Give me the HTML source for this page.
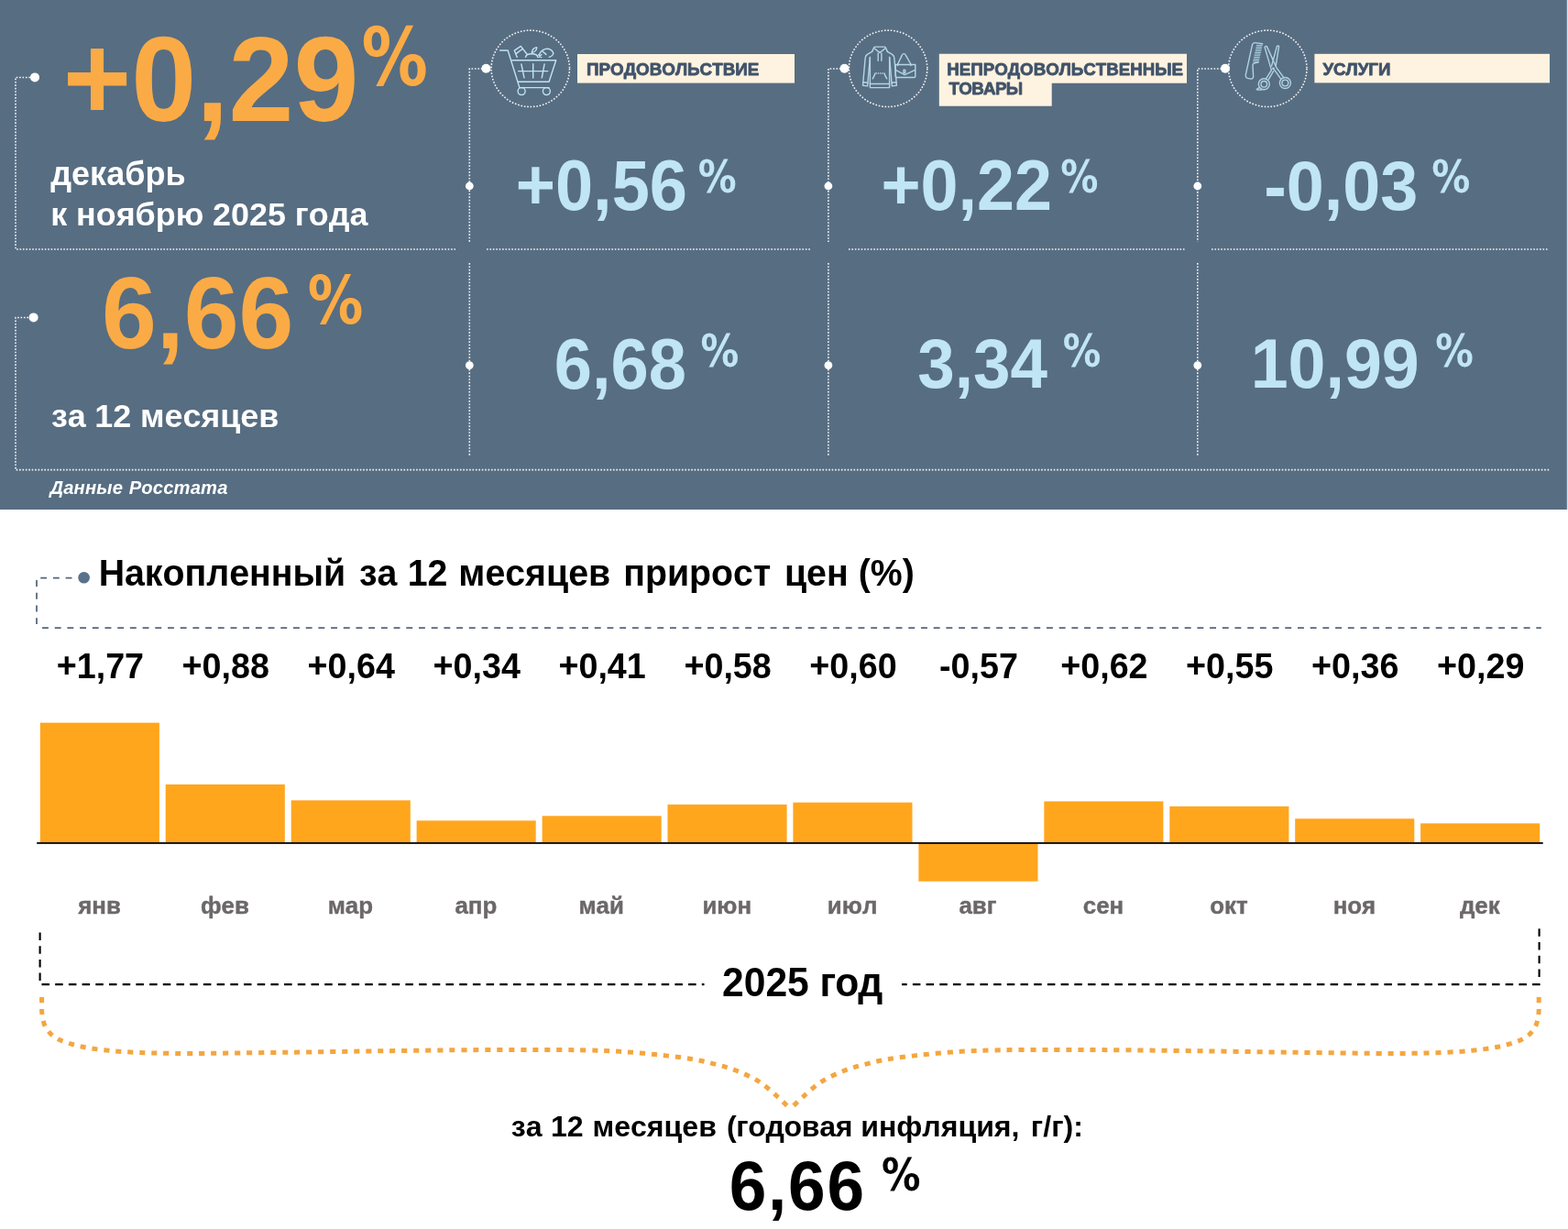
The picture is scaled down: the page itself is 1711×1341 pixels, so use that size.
<!DOCTYPE html>
<html lang="ru">
<head>
<meta charset="utf-8">
<title>Инфляция: декабрь 2025 года</title>
<style>
html,body{margin:0;padding:0;background:#ffffff;}
body{width:1711px;height:1341px;overflow:hidden;}
svg{display:block;}
text{font-family:"Liberation Sans",sans-serif;font-weight:700;font-kerning:none;}
.dot{fill:none;stroke:#ffffff;stroke-width:1.6;stroke-dasharray:1.65 1.76;stroke-opacity:0.92;}
.ic{fill:none;stroke:#bfe4f4;stroke-width:1.4;stroke-linecap:round;stroke-linejoin:round;}
.dash{fill:none;stroke:#55657a;stroke-width:1.75;stroke-dasharray:6.9 6.8;}
.bdash{fill:none;stroke:#000000;stroke-width:2.1;stroke-dasharray:8.5 6.2;}
.brace{fill:none;stroke:#f4a640;stroke-width:5;stroke-dasharray:6.1 6.9;}
.pc{font-family:"DejaVu Sans","Liberation Sans",sans-serif;}
.lbl{fill:#41536a;stroke:#41536a;stroke-width:0.8px;stroke-linejoin:round;}
.mon{fill:#6c6869;stroke:#6c6869;stroke-width:0.4px;}
</style>
</head>
<body>
<svg width="1711" height="1341" viewBox="0 0 1711 1341" role="img" aria-label="Инфляция: декабрь 2025 года">

<rect x="1709" y="0" width="2" height="556" fill="#dbe4ec"/>
<rect x="0" y="0" width="1709.8" height="556" fill="#576d82"/>
<g>
<path class="dot" d="M33 84.5H17V272H497"/>
<path class="dot" d="M31 346.5H17V512.6H1691"/>
<path class="dot" d="M526.4 75H512.3V264"/>
<path class="dot" d="M512.3 287V497"/>
<path class="dot" d="M917.5 75H903.9V264"/>
<path class="dot" d="M903.9 287V497"/>
<path class="dot" d="M1333.0 75H1306.8V264"/>
<path class="dot" d="M1306.8 287V497"/>
<path class="dot" d="M531 272H884"/>
<path class="dot" d="M926 272H1294"/>
<path class="dot" d="M1322 272H1690"/>
</g>
<circle cx="38" cy="84.4" r="5" fill="#fff"/>
<circle cx="36.6" cy="346.4" r="5" fill="#fff"/>
<circle cx="530.4" cy="74.8" r="5" fill="#fff"/>
<circle cx="512.3" cy="203" r="4.4" fill="#fff"/>
<circle cx="512.3" cy="398.6" r="4.4" fill="#fff"/>
<circle cx="921.5" cy="74.8" r="5" fill="#fff"/>
<circle cx="903.9" cy="203" r="4.4" fill="#fff"/>
<circle cx="903.9" cy="398.6" r="4.4" fill="#fff"/>
<circle cx="1337.0" cy="74.8" r="5" fill="#fff"/>
<circle cx="1306.8" cy="203" r="4.4" fill="#fff"/>
<circle cx="1306.8" cy="398.6" r="4.4" fill="#fff"/>
<ellipse class="dot" cx="578.8" cy="74.8" rx="42.7" ry="41.7" stroke-width="1.7"/>
<ellipse class="dot" cx="969.1" cy="74.8" rx="42.7" ry="41.7" stroke-width="1.7"/>
<ellipse class="dot" cx="1383.3" cy="74.8" rx="42.7" ry="41.7" stroke-width="1.7"/>
<g class="ic" stroke-width="1.45">
<path d="M545.6 55H554.2L566.9 95.6H599"/>
<path d="M558.8 65.8H606.7L599.1 89.2H565.4"/>
<path d="M565.6 77.6H597.8M568.9 70L572 84.8M581.7 69.7V85.1M594.1 69.9L591.3 84.8"/>
<circle cx="569.1" cy="99.6" r="4"/>
<circle cx="596.4" cy="99.6" r="4"/>
<path d="M564.3 62.4L561.3 55.2L568.3 50.4L570.4 53.2L575 59"/>
<path d="M563 58.6L570.4 53.2"/>
<path d="M573.5 62.4C574 57.6 586.3 57.6 586.8 62.4"/>
<path d="M580.3 57.6C580.6 54.4 583 52 585.7 51.6C585.8 54.2 583.6 56.6 580.3 57.6Z"/>
<path d="M588.3 59.6C590 55.4 594.2 52.7 598.2 53.3C602 53.9 604.6 57 603.4 59.5C602.5 61 601 61.8 599.4 62.4"/>
<path d="M592.2 56.2L596 59.4M587.6 60L590.6 62.6M590.8 59.6L587.8 62.6"/>
</g>
<g class="ic" stroke-width="1.05" opacity="0.88">
<path d="M951.6 56.4L953.8 51.6Q954.2 51.1 955 51.1H965Q965.8 51.1 966.2 51.6L968.4 56.4"/>
<path d="M954.4 53L960 57.6L965.6 53"/>
<path d="M958.2 58.2V66.2M961.9 58.2V66.2"/>
<path d="M951.6 56.4L946.4 59.4Q944.4 60.8 944.2 63L941.5 93.2L946.6 93.9L949.4 62.4"/>
<path d="M968.4 56.4L973.6 59.4Q975.6 60.8 975.8 63L978.4 93.2L973.3 93.9L970.6 62.4"/>
<path d="M949.4 62.4V95.6H970.6V62.4"/>
<path d="M949.4 91.5H970.6M941.9 89.8L946.9 90.3M978 89.8L973 90.3"/>
<path d="M952.3 85.8C953.6 83.6 954.6 81.6 955 80M967.7 85.8C966.4 83.6 965.4 81.6 965 80"/>
<path d="M955.6 80H964.6" stroke-dasharray="1.3 0.9" stroke-linecap="butt"/>
<path d="M977.2 70.5H998.8V83.3Q998.8 84.5 997.6 84.5H978.4Q977.2 84.5 977.2 83.3Z"/>
<path d="M977.4 76.4L987.2 81.6L998.6 76.4"/>
<rect x="985.9" y="76.1" width="1.9" height="3.4" rx="0.6"/>
<path d="M979.6 71.6V70L984.2 60.4C985 58 987.6 58 988.4 60.4L993.9 70V71.6"/>
</g>
<g class="ic" stroke-width="0.95" opacity="0.85">
<path d="M1377.6 47.8L1369.4 46.6Q1367.2 46.4 1366.5 48.8L1359.4 81.2Q1358.7 84.6 1361.4 85.4L1365 86.1Q1367.4 86.2 1367.6 83.8L1367 71.2Q1367 69.5 1368.6 69L1373.2 67.8"/>
<path d="M1371.4 49.4H1377.3M1371.0 51.0H1376.9M1370.7 52.6H1376.6M1370.3 54.3H1376.2M1370.0 55.9H1375.9M1369.6 57.5H1375.5M1369.2 59.1H1375.1M1368.9 60.7H1374.8M1368.5 62.4H1374.4M1368.2 64.0H1374.1M1367.8 65.6H1373.7M1367.4 67.2H1373.3" stroke-width="0.9"/>
<path d="M1380.1 51.6Q1380.6 50 1382.4 50.6L1392.6 73.4L1400.6 84.4M1380.1 51.6L1387.4 76.6"/>
<path d="M1395.6 50.6Q1395 49.4 1393.4 50.4L1387.6 72M1395.6 50.6L1392.2 71.6"/>
<path d="M1387.4 76.6L1381.6 85.6M1390.6 76.2L1398 86.6M1389.6 77.6L1384.4 86.4"/>
<circle cx="1389.5" cy="74.8" r="0.7"/>
<circle cx="1402.4" cy="90.5" r="6"/>
<circle cx="1402.4" cy="90.5" r="3.4"/>
<circle cx="1379.3" cy="91.8" r="6"/>
<circle cx="1379.3" cy="91.8" r="3.3"/>
<path d="M1374.4 95.4L1371.2 97.6Q1373.5 98.6 1377.6 97.6"/>
</g>
<rect x="630" y="59" width="237" height="31.6" fill="#fef3e0"/>
<path d="M1024.8 58.8H1295V90.7H1147.7V115.7H1024.8Z" fill="#fef3e0"/>
<rect x="1434.4" y="58.8" width="256.6" height="31.6" fill="#fef3e0"/>
<text class="lbl" transform="translate(640.04 82.2) scale(1 0.965)" font-size="18.81">ПРОДОВОЛЬСТВИЕ</text>
<text class="lbl" transform="translate(1033.35 81.9) scale(1 0.965)" font-size="18.71">НЕПРОДОВОЛЬСТВЕННЫЕ</text>
<text class="lbl" transform="translate(1035.39 103.2) scale(1 0.965)" font-size="18.8" letter-spacing="-0.67">ТОВАРЫ</text>
<text class="lbl" transform="translate(1443.39 82) scale(1 0.965)" font-size="18.71">УСЛУГИ</text>
<text transform="translate(68.64 131.61) scale(1 1.036)" font-size="127.57" fill="#fbab45"><tspan dy="-1.98">+</tspan><tspan dy="1.98">0,29</tspan></text>
<text class="pc" transform="translate(394.47 93.06) scale(0.823 1)" font-size="87.79" fill="#fbab45">%</text>
<text y="201.6" font-size="36" fill="#fff" xml:space="preserve"><tspan x="55.25">декабрь</tspan></text>
<text y="246.1" font-size="35.9" fill="#fff" xml:space="preserve"><tspan x="55.31">к </tspan><tspan x="83.09">ноябрю </tspan><tspan x="232.06">2025 </tspan><tspan x="321.79">года</tspan></text>
<text transform="translate(110.96 379.91) scale(1 1.041)" font-size="107.6" fill="#fbab45">6,66</text>
<text class="pc" transform="translate(335.75 353.17) scale(0.830 1)" font-size="72.85" fill="#fbab45">%</text>
<text y="465.9" font-size="35.9" fill="#fff" xml:space="preserve"><tspan x="55.97">за </tspan><tspan x="103.24">12 </tspan><tspan x="152.89">месяцев</tspan></text>
<text y="538.7" font-size="20.2" fill="#fff" letter-spacing="0.15" font-style="italic" xml:space="preserve"><tspan x="54.53">Данные </tspan><tspan x="140.74">Росстата</tspan></text>
<text transform="translate(562.69 229.45) scale(1 1.044)" font-size="74.02" fill="#c0e5f5"><tspan dy="-1.15">+</tspan><tspan dy="1.15">0,56</tspan></text>
<text class="pc" transform="translate(761.65 209.79) scale(0.834 1)" font-size="50.11" fill="#c0e5f5">%</text>
<text transform="translate(961.4 229.45) scale(1 1.047)" font-size="73.77" fill="#c0e5f5"><tspan dy="-1.14">+</tspan><tspan dy="1.14">0,22</tspan></text>
<text class="pc" transform="translate(1157.27 209.79) scale(0.821 1)" font-size="50.11" fill="#c0e5f5">%</text>
<text transform="translate(1379.22 229.45) scale(1 1.042)" font-size="73.73" fill="#c0e5f5">-0,03</text>
<text class="pc" transform="translate(1562.25 209.79) scale(0.838 1)" font-size="50.11" fill="#c0e5f5">%</text>
<text transform="translate(604.79 423.54) scale(1 1.054)" font-size="74.09" fill="#c0e5f5">6,68</text>
<text class="pc" transform="translate(764.56 400.09) scale(0.832 1)" font-size="50.11" fill="#c0e5f5">%</text>
<text transform="translate(1001.23 422.9) scale(1 1.042)" font-size="72.79" fill="#c0e5f5">3,34</text>
<text class="pc" transform="translate(1159.86 400.09) scale(0.828 1)" font-size="50.11" fill="#c0e5f5">%</text>
<text transform="translate(1364.67 422.9) scale(1 1.042)" font-size="73.55" fill="#c0e5f5">10,99</text>
<text class="pc" transform="translate(1566.16 400.09) scale(0.828 1)" font-size="50.11" fill="#c0e5f5">%</text>
<path class="dash" d="M44.2 630.5H85"/>
<path class="dash" d="M40 633.1V685" stroke-dasharray="7 7.6"/>
<path class="dash" d="M46 685.1H1681.8"/>
<circle cx="91.6" cy="630.3" r="6.3" fill="#5a718b"/>
<text transform="translate(0 638.7) scale(1 1.015)" y="0" font-size="39.3" fill="#000" xml:space="preserve"><tspan x="107.67">Накопленный </tspan><tspan x="391.88">за </tspan><tspan x="444.72">12 </tspan><tspan x="500.36">месяцев </tspan><tspan x="680.26">прирост </tspan><tspan x="855.96">цен </tspan><tspan x="936.74">(%)</tspan></text>
<rect x="43.8" y="788.6" width="130.1" height="131.4" fill="#ffa61d"/>
<rect x="180.7" y="855.9" width="130.1" height="64.1" fill="#ffa61d"/>
<rect x="317.7" y="873.3" width="130.1" height="46.7" fill="#ffa61d"/>
<rect x="454.6" y="895.4" width="130.1" height="24.6" fill="#ffa61d"/>
<rect x="591.6" y="890.3" width="130.1" height="29.7" fill="#ffa61d"/>
<rect x="728.5" y="877.8" width="130.1" height="42.2" fill="#ffa61d"/>
<rect x="865.4" y="875.6" width="130.1" height="44.4" fill="#ffa61d"/>
<rect x="1002.4" y="920.0" width="130.1" height="41.7" fill="#ffa61d"/>
<rect x="1139.3" y="874.4" width="130.1" height="45.6" fill="#ffa61d"/>
<rect x="1276.3" y="879.8" width="130.1" height="40.2" fill="#ffa61d"/>
<rect x="1413.2" y="893.3" width="130.1" height="26.7" fill="#ffa61d"/>
<rect x="1550.1" y="898.4" width="130.1" height="21.6" fill="#ffa61d"/>
<text transform="translate(109.4 739.9) scale(1 1.037)" font-size="37.7" text-anchor="middle"><tspan dy="-0.55">+</tspan><tspan dy="0.55">1,77</tspan></text>
<text transform="translate(246.3 739.9) scale(1 1.037)" font-size="37.7" text-anchor="middle"><tspan dy="-0.55">+</tspan><tspan dy="0.55">0,88</tspan></text>
<text transform="translate(383.2 739.9) scale(1 1.037)" font-size="37.7" text-anchor="middle"><tspan dy="-0.55">+</tspan><tspan dy="0.55">0,64</tspan></text>
<text transform="translate(520.2 739.9) scale(1 1.037)" font-size="37.7" text-anchor="middle"><tspan dy="-0.55">+</tspan><tspan dy="0.55">0,34</tspan></text>
<text transform="translate(657.1 739.9) scale(1 1.037)" font-size="37.7" text-anchor="middle"><tspan dy="-0.55">+</tspan><tspan dy="0.55">0,41</tspan></text>
<text transform="translate(794.1 739.9) scale(1 1.037)" font-size="37.7" text-anchor="middle"><tspan dy="-0.55">+</tspan><tspan dy="0.55">0,58</tspan></text>
<text transform="translate(931.0 739.9) scale(1 1.037)" font-size="37.7" text-anchor="middle"><tspan dy="-0.55">+</tspan><tspan dy="0.55">0,60</tspan></text>
<text transform="translate(1068.0 739.9) scale(1 1.037)" font-size="37.7" text-anchor="middle">-0,57</text>
<text transform="translate(1204.9 739.9) scale(1 1.037)" font-size="37.7" text-anchor="middle"><tspan dy="-0.55">+</tspan><tspan dy="0.55">0,62</tspan></text>
<text transform="translate(1341.8 739.9) scale(1 1.037)" font-size="37.7" text-anchor="middle"><tspan dy="-0.55">+</tspan><tspan dy="0.55">0,55</tspan></text>
<text transform="translate(1478.8 739.9) scale(1 1.037)" font-size="37.7" text-anchor="middle"><tspan dy="-0.55">+</tspan><tspan dy="0.55">0,36</tspan></text>
<text transform="translate(1615.7 739.9) scale(1 1.037)" font-size="37.7" text-anchor="middle"><tspan dy="-0.55">+</tspan><tspan dy="0.55">0,29</tspan></text>
<text class="mon" transform="translate(108.5 996.9) scale(1 0.97)" font-size="25.9" text-anchor="middle">янв</text>
<text class="mon" transform="translate(245.4 996.9) scale(1 0.97)" font-size="25.9" text-anchor="middle">фев</text>
<text class="mon" transform="translate(382.4 996.9) scale(1 0.97)" font-size="25.9" text-anchor="middle">мар</text>
<text class="mon" transform="translate(519.3 996.9) scale(1 0.97)" font-size="25.9" text-anchor="middle">апр</text>
<text class="mon" transform="translate(656.2 996.9) scale(1 0.97)" font-size="25.9" text-anchor="middle">май</text>
<text class="mon" transform="translate(793.2 996.9) scale(1 0.97)" font-size="25.9" text-anchor="middle">июн</text>
<text class="mon" transform="translate(930.1 996.9) scale(1 0.97)" font-size="25.9" text-anchor="middle">июл</text>
<text class="mon" transform="translate(1067.0 996.9) scale(1 0.97)" font-size="25.9" text-anchor="middle">авг</text>
<text class="mon" transform="translate(1204.0 996.9) scale(1 0.97)" font-size="25.9" text-anchor="middle">сен</text>
<text class="mon" transform="translate(1340.9 996.9) scale(1 0.97)" font-size="25.9" text-anchor="middle">окт</text>
<text class="mon" transform="translate(1477.9 996.9) scale(1 0.97)" font-size="25.9" text-anchor="middle">ноя</text>
<text class="mon" transform="translate(1614.8 996.9) scale(1 0.97)" font-size="25.9" text-anchor="middle">дек</text>
<rect x="40.2" y="918.95" width="1643.5" height="1.9" fill="#0c0c0c"/>
<path class="bdash" d="M43.6 1017.5V1072"/>
<path class="bdash" d="M45.5 1074.1H768.5"/>
<path class="bdash" d="M1679.6 1013.3V1072"/>
<path class="bdash" d="M1680.6 1074.1H984"/>
<text transform="translate(0 1086.7) scale(1 1.020)" y="0" font-size="42.6" fill="#000" xml:space="preserve"><tspan x="788.02">2025 </tspan><tspan x="894.63" letter-spacing="-1.00">год</tspan></text>
<path class="brace" d="M45.6 1088.0C45.6 1089.3 45.6 1093.3 45.6 1096.0C45.6 1098.7 45.5 1101.2 45.7 1104.0C45.9 1106.8 46.4 1110.2 47.0 1113.0C47.6 1115.8 48.3 1118.0 49.6 1120.5C50.9 1123.0 53.1 1125.8 55.0 1127.8C56.9 1129.8 58.8 1130.9 61.0 1132.3C63.2 1133.7 64.7 1134.6 68.0 1135.9C71.3 1137.2 76.5 1138.8 80.7 1140.0C84.9 1141.2 88.8 1142.0 93.0 1142.8C97.2 1143.6 101.7 1144.3 106.0 1144.9C110.3 1145.5 114.4 1145.9 118.7 1146.3C123.0 1146.7 125.5 1147.0 132.0 1147.4C138.6 1147.8 149.3 1148.4 158.0 1148.7C166.7 1149.0 173.2 1149.2 184.0 1149.3C194.8 1149.4 201.1 1149.6 222.6 1149.4C244.1 1149.2 280.6 1148.7 313.0 1148.3C345.4 1147.9 382.3 1147.2 417.0 1146.8C451.7 1146.3 490.5 1145.8 521.0 1145.6C551.5 1145.4 580.2 1145.4 600.0 1145.4C619.8 1145.5 627.3 1145.6 640.0 1145.9C652.7 1146.2 663.5 1146.5 676.1 1147.3C688.7 1148.1 702.3 1149.2 715.4 1150.6C728.5 1152.0 743.9 1153.8 754.6 1155.5C765.4 1157.2 771.7 1159.0 779.9 1161.1C788.1 1163.2 795.7 1165.1 803.7 1168.3C811.7 1171.5 820.6 1175.3 828.1 1180.1C835.6 1184.8 842.9 1191.8 848.6 1196.8C854.3 1201.8 860.1 1207.8 862.4 1210.0"/>
<path class="brace" d="M1679.2 1088.0C1679.2 1089.3 1679.2 1093.3 1679.2 1096.0C1679.2 1098.7 1679.3 1101.2 1679.1 1104.0C1678.9 1106.8 1678.4 1110.2 1677.8 1113.0C1677.2 1115.8 1676.5 1118.0 1675.2 1120.5C1673.9 1123.0 1671.7 1125.8 1669.8 1127.8C1667.9 1129.8 1666.0 1130.9 1663.8 1132.3C1661.6 1133.7 1660.1 1134.6 1656.8 1135.9C1653.5 1137.2 1648.3 1138.8 1644.1 1140.0C1639.9 1141.2 1636.0 1142.0 1631.8 1142.8C1627.6 1143.6 1623.1 1144.3 1618.8 1144.9C1614.5 1145.5 1610.4 1145.9 1606.1 1146.3C1601.8 1146.7 1599.3 1147.0 1592.8 1147.4C1586.2 1147.8 1575.5 1148.4 1566.8 1148.7C1558.1 1149.0 1551.6 1149.2 1540.8 1149.3C1530.0 1149.4 1523.7 1149.6 1502.2 1149.4C1480.7 1149.2 1444.2 1148.7 1411.8 1148.3C1379.4 1147.9 1342.5 1147.2 1307.8 1146.8C1273.1 1146.3 1234.3 1145.8 1203.8 1145.6C1173.3 1145.4 1144.6 1145.4 1124.8 1145.4C1105.0 1145.5 1097.5 1145.6 1084.8 1145.9C1072.1 1146.2 1061.3 1146.5 1048.7 1147.3C1036.1 1148.1 1022.5 1149.2 1009.4 1150.6C996.3 1152.0 980.9 1153.8 970.2 1155.5C959.4 1157.2 953.1 1159.0 944.9 1161.1C936.7 1163.2 929.1 1165.1 921.1 1168.3C913.1 1171.5 904.2 1175.3 896.7 1180.1C889.2 1184.8 881.9 1191.8 876.2 1196.8C870.5 1201.8 864.7 1207.8 862.4 1210.0"/>
<text y="1240.3" font-size="32.1" fill="#000" xml:space="preserve"><tspan x="557.87">за </tspan><tspan x="600.98">12 </tspan><tspan x="646.46">месяцев </tspan><tspan x="793" letter-spacing="-0.35">(годовая </tspan><tspan x="939.17">инфляция, </tspan><tspan x="1124.86">г/г):</tspan></text>
<text transform="translate(795.63 1319.96) scale(1 1.035)" font-size="73" fill="#000" letter-spacing="1.81">6,66</text>
<text class="pc" transform="translate(961.93 1299.08) scale(0.840 1)" font-size="50.51" fill="#000">%</text>
</svg>
</body>
</html>
